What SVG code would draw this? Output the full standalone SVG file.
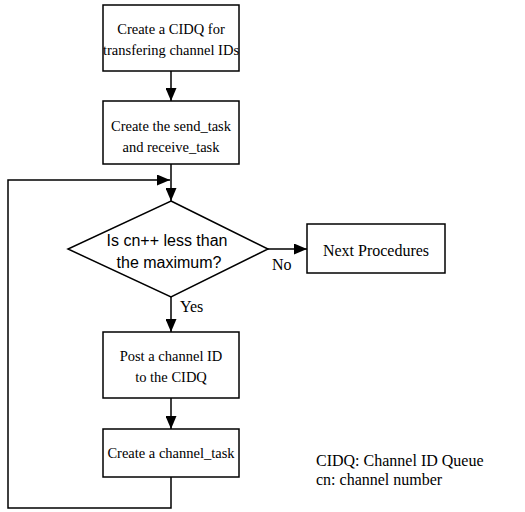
<svg xmlns="http://www.w3.org/2000/svg" width="525" height="512" viewBox="0 0 525 512">
  <style>
    .box { fill: #ffffff; stroke: #000000; stroke-width: 1.5; }
    .wire { fill: none; stroke: #000000; stroke-width: 1.5; }
    .t { font-family: "Liberation Serif", "Times New Roman", serif; font-size: 14.5px; fill: #000000; }
    .big { font-size: 16px; }
    .q { font-family: "Liberation Sans", Arial, sans-serif; font-size: 16px; fill: #000000; }
    .c { text-anchor: middle; }
  </style>
  <defs>
    <marker id="arrow" viewBox="0 0 13 11" refX="13" refY="5.5" markerWidth="13" markerHeight="11" markerUnits="userSpaceOnUse" orient="auto">
      <path d="M0,0 L13,5.5 L0,11 Z" fill="#000000"/>
    </marker>
  </defs>
  <rect width="525" height="512" fill="#ffffff"/>

  <!-- connectors -->
  <g id="connectors">
    <line class="wire" x1="171" y1="71" x2="171" y2="101" marker-end="url(#arrow)"/>
    <line class="wire" x1="171" y1="164" x2="171" y2="201" marker-end="url(#arrow)"/>
    <line class="wire" x1="268" y1="249" x2="307" y2="249" marker-end="url(#arrow)"/>
    <line class="wire" x1="171" y1="297" x2="171" y2="332" marker-end="url(#arrow)"/>
    <line class="wire" x1="171" y1="398" x2="171" y2="429" marker-end="url(#arrow)"/>
    <!-- loop back from the last task to the decision -->
    <polyline class="wire" points="171,477 171,508 8,508 8,180 170,180" marker-end="url(#arrow)"/>
    <text class="t big" x="272" y="270">No</text>
    <text class="t big" x="180" y="312">Yes</text>
  </g>

  <g id="create-cidq">
    <rect class="box" x="103" y="5" width="136" height="66"/>
    <text class="t c" x="171" y="34">Create a CIDQ for</text>
    <text class="t c" x="171" y="55">transfering channel IDs</text>
  </g>

  <g id="create-tasks">
    <rect class="box" x="103" y="101" width="136" height="63"/>
    <text class="t c" x="171" y="131">Create the send_task</text>
    <text class="t c" x="171" y="152">and receive_task</text>
  </g>

  <g id="decision">
    <polygon class="box" points="171,201 268,249 171,297 68,249"/>
    <text class="q c" x="167" y="246">Is cn++ less than</text>
    <text class="q c" x="169" y="268">the maximum?</text>
  </g>

  <g id="next-procedures">
    <rect class="box" x="307" y="224" width="138" height="49"/>
    <text class="t big c" x="376" y="256">Next Procedures</text>
  </g>

  <g id="post-id">
    <rect class="box" x="103" y="332" width="136" height="66"/>
    <text class="t c" x="171" y="361">Post a channel ID</text>
    <text class="t c" x="171" y="382">to the CIDQ</text>
  </g>

  <g id="channel-task">
    <rect class="box" x="103" y="429" width="136" height="48"/>
    <text class="t c" x="171" y="458">Create a channel_task</text>
  </g>

  <g id="legend">
    <text class="t big" x="316" y="466">CIDQ: Channel ID Queue</text>
    <text class="t big" x="316" y="485">cn: channel number</text>
  </g>
</svg>
